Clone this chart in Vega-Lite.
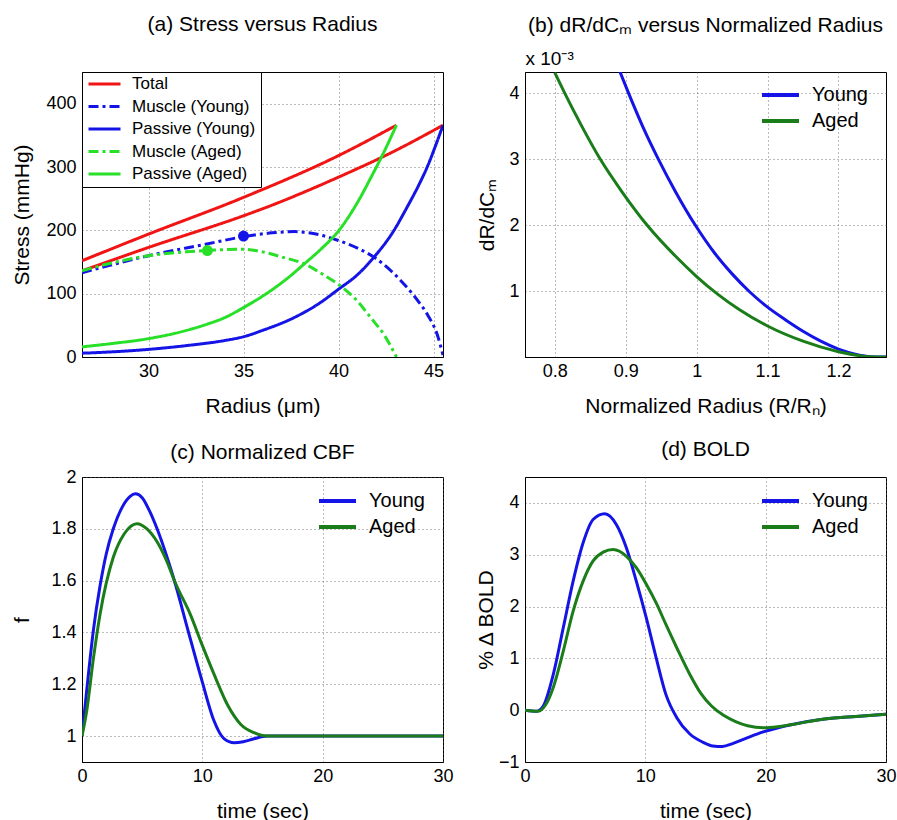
{
  "$schema": "https://vega.github.io/schema/vega-lite/v6.json",
  "padding": {"left": 10, "top": 13, "right": 0, "bottom": 0},
  "background": "white",
  "columns": 2,
  "spacing": {"row": 120, "column": 82},
  "bounds": "flush",
  "resolve": {"scale": {"color": "independent", "strokeDash": "independent", "fill": "independent"}},
  "config": {
    "font": "Liberation Sans",
    "view": {"stroke": "black", "strokeWidth": 1},
    "axis": {"domainColor": "black", "labelColor": "black", "titleColor": "black", "labelFontSize": 18, "titleFontSize": 21, "titleFontWeight": "normal", "ticks": false, "gridColor": "#555", "gridDash": [1, 3], "gridOpacity": 0.8, "labelFlush": false, "labelOverlap": false, "labelFont": "Liberation Sans", "titleFont": "Liberation Sans"},
    "axisX": {"labelPadding": 5, "titleY": 55, "titleBaseline": "alphabetic"},
    "axisY": {"labelPadding": 6, "titleBaseline": "alphabetic"},
    "title": {"fontSize": 21, "fontWeight": "normal", "color": "black", "anchor": "middle", "baseline": "alphabetic", "font": "Liberation Sans"},
    "legend": {"labelColor": "black", "labelFont": "Liberation Sans"},
    "line": {"interpolate": "monotone"}
  },
  "concat": [
    {
      "width": 361, "height": 285,
      "title": {"text": "(a) Stress versus Radius", "offset": 37},
      "layer": [
        {
          "data": {"values": [
            {"r": 26.5, "s": 136, "series": "Total", "curve": "TY"},
            {"r": 30, "s": 173, "series": "Total", "curve": "TY"},
            {"r": 35, "s": 223, "series": "Total", "curve": "TY"},
            {"r": 36, "s": 234, "series": "Total", "curve": "TY"},
            {"r": 40, "s": 284, "series": "Total", "curve": "TY"},
            {"r": 43, "s": 326, "series": "Total", "curve": "TY"},
            {"r": 45.5, "s": 366, "series": "Total", "curve": "TY"},
            {"r": 26.5, "s": 152, "series": "Total", "curve": "TA"},
            {"r": 30, "s": 194, "series": "Total", "curve": "TA"},
            {"r": 35, "s": 252, "series": "Total", "curve": "TA"},
            {"r": 40, "s": 318, "series": "Total", "curve": "TA"},
            {"r": 43.05, "s": 366, "series": "Total", "curve": "TA"},
            {"r": 26.5, "s": 133, "series": "Muscle (Young)", "curve": "MY"},
            {"r": 28, "s": 145, "series": "Muscle (Young)", "curve": "MY"},
            {"r": 30, "s": 160, "series": "Muscle (Young)", "curve": "MY"},
            {"r": 33, "s": 178, "series": "Muscle (Young)", "curve": "MY"},
            {"r": 35, "s": 190, "series": "Muscle (Young)", "curve": "MY"},
            {"r": 36.5, "s": 196, "series": "Muscle (Young)", "curve": "MY"},
            {"r": 37.7, "s": 198, "series": "Muscle (Young)", "curve": "MY"},
            {"r": 39, "s": 193, "series": "Muscle (Young)", "curve": "MY"},
            {"r": 40, "s": 184, "series": "Muscle (Young)", "curve": "MY"},
            {"r": 41, "s": 172, "series": "Muscle (Young)", "curve": "MY"},
            {"r": 41.9, "s": 157, "series": "Muscle (Young)", "curve": "MY"},
            {"r": 42.8, "s": 135, "series": "Muscle (Young)", "curve": "MY"},
            {"r": 43.6, "s": 110, "series": "Muscle (Young)", "curve": "MY"},
            {"r": 44.2, "s": 88, "series": "Muscle (Young)", "curve": "MY"},
            {"r": 44.7, "s": 66, "series": "Muscle (Young)", "curve": "MY"},
            {"r": 45.2, "s": 35, "series": "Muscle (Young)", "curve": "MY"},
            {"r": 45.5, "s": 3, "series": "Muscle (Young)", "curve": "MY"},
            {"r": 26.5, "s": 6, "series": "Passive (Young)", "curve": "PY"},
            {"r": 28, "s": 8, "series": "Passive (Young)", "curve": "PY"},
            {"r": 30, "s": 12, "series": "Passive (Young)", "curve": "PY"},
            {"r": 32, "s": 18, "series": "Passive (Young)", "curve": "PY"},
            {"r": 34, "s": 26, "series": "Passive (Young)", "curve": "PY"},
            {"r": 35, "s": 32, "series": "Passive (Young)", "curve": "PY"},
            {"r": 36, "s": 42, "series": "Passive (Young)", "curve": "PY"},
            {"r": 37.65, "s": 62, "series": "Passive (Young)", "curve": "PY"},
            {"r": 39, "s": 85, "series": "Passive (Young)", "curve": "PY"},
            {"r": 40, "s": 107, "series": "Passive (Young)", "curve": "PY"},
            {"r": 41, "s": 130, "series": "Passive (Young)", "curve": "PY"},
            {"r": 41.85, "s": 157, "series": "Passive (Young)", "curve": "PY"},
            {"r": 42.9, "s": 199, "series": "Passive (Young)", "curve": "PY"},
            {"r": 43.6, "s": 236, "series": "Passive (Young)", "curve": "PY"},
            {"r": 44.2, "s": 270, "series": "Passive (Young)", "curve": "PY"},
            {"r": 44.67, "s": 300, "series": "Passive (Young)", "curve": "PY"},
            {"r": 45.1, "s": 333, "series": "Passive (Young)", "curve": "PY"},
            {"r": 45.5, "s": 366, "series": "Passive (Young)", "curve": "PY"},
            {"r": 26.5, "s": 136, "series": "Muscle (Aged)", "curve": "MA"},
            {"r": 28, "s": 148, "series": "Muscle (Aged)", "curve": "MA"},
            {"r": 30, "s": 160, "series": "Muscle (Aged)", "curve": "MA"},
            {"r": 32, "s": 166, "series": "Muscle (Aged)", "curve": "MA"},
            {"r": 33.5, "s": 169, "series": "Muscle (Aged)", "curve": "MA"},
            {"r": 35, "s": 170, "series": "Muscle (Aged)", "curve": "MA"},
            {"r": 36, "s": 166, "series": "Muscle (Aged)", "curve": "MA"},
            {"r": 37, "s": 158, "series": "Muscle (Aged)", "curve": "MA"},
            {"r": 38.2, "s": 147, "series": "Muscle (Aged)", "curve": "MA"},
            {"r": 39.2, "s": 130, "series": "Muscle (Aged)", "curve": "MA"},
            {"r": 40.2, "s": 110, "series": "Muscle (Aged)", "curve": "MA"},
            {"r": 41, "s": 88, "series": "Muscle (Aged)", "curve": "MA"},
            {"r": 41.7, "s": 62, "series": "Muscle (Aged)", "curve": "MA"},
            {"r": 42.4, "s": 35, "series": "Muscle (Aged)", "curve": "MA"},
            {"r": 43.05, "s": 0, "series": "Muscle (Aged)", "curve": "MA"},
            {"r": 26.5, "s": 16, "series": "Passive (Aged)", "curve": "PA"},
            {"r": 28, "s": 21, "series": "Passive (Aged)", "curve": "PA"},
            {"r": 30, "s": 29, "series": "Passive (Aged)", "curve": "PA"},
            {"r": 32, "s": 42, "series": "Passive (Aged)", "curve": "PA"},
            {"r": 33.1, "s": 52, "series": "Passive (Aged)", "curve": "PA"},
            {"r": 34, "s": 62, "series": "Passive (Aged)", "curve": "PA"},
            {"r": 35, "s": 78, "series": "Passive (Aged)", "curve": "PA"},
            {"r": 36.4, "s": 104, "series": "Passive (Aged)", "curve": "PA"},
            {"r": 37.3, "s": 124, "series": "Passive (Aged)", "curve": "PA"},
            {"r": 38.2, "s": 147, "series": "Passive (Aged)", "curve": "PA"},
            {"r": 39.1, "s": 171, "series": "Passive (Aged)", "curve": "PA"},
            {"r": 40, "s": 199, "series": "Passive (Aged)", "curve": "PA"},
            {"r": 41.15, "s": 252, "series": "Passive (Aged)", "curve": "PA"},
            {"r": 41.7, "s": 283, "series": "Passive (Aged)", "curve": "PA"},
            {"r": 42.3, "s": 318, "series": "Passive (Aged)", "curve": "PA"},
            {"r": 43.05, "s": 366, "series": "Passive (Aged)", "curve": "PA"}
          ]},
          "mark": {"type": "line", "strokeWidth": 3, "clip": true},
          "encoding": {
            "x": {"field": "r", "type": "quantitative", "scale": {"domain": [26.5, 45.5], "nice": false, "zero": false}, "axis": {"values": [30, 35, 40, 45], "format": "d", "title": "Radius (μm)"}},
            "y": {"field": "s", "type": "quantitative", "scale": {"domain": [0, 450], "nice": false}, "axis": {"values": [0, 100, 200, 300, 400], "format": "d", "title": "Stress (mmHg)", "titleX": -54}},
            "color": {"field": "series", "type": "nominal",
              "scale": {"domain": ["Total", "Muscle (Young)", "Passive (Young)", "Muscle (Aged)", "Passive (Aged)"], "range": ["#f01414", "#1414e6", "#1414e6", "#28e028", "#28e028"]},
              "legend": {"title": null, "orient": "top-left", "offset": 0, "padding": 5, "strokeColor": "black", "fillColor": "white", "labelFontSize": 17, "symbolType": "stroke", "symbolSize": 1024, "symbolStrokeWidth": 3, "labelOffset": 10, "rowPadding": 5.5, "clipHeight": 14}},
            "strokeDash": {"field": "series", "type": "nominal",
              "scale": {"domain": ["Total", "Muscle (Young)", "Passive (Young)", "Muscle (Aged)", "Passive (Aged)"], "range": [[1, 0], [10, 4, 3, 4], [1, 0], [10, 4, 3, 4], [1, 0]]},
              "legend": {"title": null, "orient": "top-left", "offset": 0, "padding": 5, "strokeColor": "black", "fillColor": "white", "labelFontSize": 17, "symbolType": "stroke", "symbolSize": 1024, "symbolStrokeWidth": 3, "labelOffset": 10, "rowPadding": 5.5, "clipHeight": 14}},
            "detail": {"field": "curve"}
          }
        },
        {
          "data": {"values": [
            {"r": 35, "s": 191, "group": "Young"},
            {"r": 33.1, "s": 168, "group": "Aged"}
          ]},
          "mark": {"type": "circle", "size": 120, "opacity": 1},
          "encoding": {
            "x": {"field": "r", "type": "quantitative"},
            "y": {"field": "s", "type": "quantitative"},
            "fill": {"field": "group", "type": "nominal", "scale": {"domain": ["Young", "Aged"], "range": ["#1414e6", "#28e028"]}, "legend": null}
          }
        }
      ]
    },
    {
      "width": 361, "height": 285,
      "title": {"text": "(b) dR/dCₘ versus Normalized Radius", "offset": 13},
      "data": {"values": [
        {"x": 0.892, "y": 4.32, "g": "Young"},
        {"x": 0.904, "y": 4.0, "g": "Young"},
        {"x": 0.925, "y": 3.47, "g": "Young"},
        {"x": 0.946, "y": 3.0, "g": "Young"},
        {"x": 0.97, "y": 2.51, "g": "Young"},
        {"x": 0.998, "y": 2.0, "g": "Young"},
        {"x": 1.025, "y": 1.58, "g": "Young"},
        {"x": 1.05, "y": 1.26, "g": "Young"},
        {"x": 1.075, "y": 0.985, "g": "Young"},
        {"x": 1.1, "y": 0.755, "g": "Young"},
        {"x": 1.125, "y": 0.565, "g": "Young"},
        {"x": 1.15, "y": 0.39, "g": "Young"},
        {"x": 1.175, "y": 0.24, "g": "Young"},
        {"x": 1.2, "y": 0.12, "g": "Young"},
        {"x": 1.225, "y": 0.04, "g": "Young"},
        {"x": 1.245, "y": 0.005, "g": "Young"},
        {"x": 1.267, "y": 0.0, "g": "Young"},
        {"x": 0.8, "y": 4.31, "g": "Aged"},
        {"x": 0.814, "y": 4.0, "g": "Aged"},
        {"x": 0.838, "y": 3.5, "g": "Aged"},
        {"x": 0.864, "y": 3.0, "g": "Aged"},
        {"x": 0.895, "y": 2.5, "g": "Aged"},
        {"x": 0.93, "y": 2.0, "g": "Aged"},
        {"x": 0.97, "y": 1.53, "g": "Aged"},
        {"x": 1.0, "y": 1.22, "g": "Aged"},
        {"x": 1.03, "y": 0.95, "g": "Aged"},
        {"x": 1.06, "y": 0.72, "g": "Aged"},
        {"x": 1.1, "y": 0.47, "g": "Aged"},
        {"x": 1.15, "y": 0.24, "g": "Aged"},
        {"x": 1.2, "y": 0.08, "g": "Aged"},
        {"x": 1.23, "y": 0.02, "g": "Aged"},
        {"x": 1.25, "y": 0.0, "g": "Aged"},
        {"x": 1.267, "y": 0.0, "g": "Aged"}
      ]},
      "resolve": {"axis": {"x": "independent"}},
      "layer": [
        {
          "mark": {"type": "line", "strokeWidth": 3, "clip": true},
          "encoding": {
            "x": {"field": "x", "type": "quantitative", "scale": {"domain": [0.758, 1.267], "nice": false, "zero": false}, "axis": {"values": [0.8, 0.9, 1, 1.1, 1.2], "format": "~g", "title": "Normalized Radius (R/Rₙ)"}},
            "y": {"field": "y", "type": "quantitative", "scale": {"domain": [0, 4.32], "nice": false}, "axis": {"values": [1, 2, 3, 4], "format": "d", "title": "dR/dCₘ", "titleX": -32}},
            "color": {"field": "g", "type": "nominal", "scale": {"domain": ["Young", "Aged"], "range": ["#1414e6", "#1a7d1a"]},
              "legend": {"title": null, "orient": "none", "legendX": 235, "legendY": 13, "padding": 0, "labelFontSize": 20, "symbolType": "stroke", "symbolSize": 1369, "symbolStrokeWidth": 4, "labelOffset": 11, "rowPadding": 6, "clipHeight": 20}}
          }
        },
        {
          "mark": {"type": "line", "opacity": 0},
          "encoding": {
            "x": {"field": "x", "type": "quantitative", "axis": {"orient": "top", "title": "x 10⁻³", "labels": false, "ticks": false, "domain": false, "grid": false, "titleAnchor": "start", "titleAlign": "left", "titleX": 0, "titleY": -8, "titleBaseline": "alphabetic", "titleFontSize": 19}},
            "y": {"field": "y", "type": "quantitative", "axis": {"values": [1, 2, 3, 4], "format": "d", "title": "dR/dCₘ", "titleX": -32}},
            "detail": {"field": "g"}
          }
        }
      ]
    },
    {
      "width": 361, "height": 285,
      "title": {"text": "(c) Normalized CBF", "offset": 5},
      "data": {"values": [
        {"t": 0, "f": 1.0, "g": "Young"},
        {"t": 0.4, "f": 1.18, "g": "Young"},
        {"t": 0.95, "f": 1.41, "g": "Young"},
        {"t": 1.5, "f": 1.58, "g": "Young"},
        {"t": 2.0, "f": 1.7, "g": "Young"},
        {"t": 2.6, "f": 1.8, "g": "Young"},
        {"t": 3.3, "f": 1.88, "g": "Young"},
        {"t": 4.0, "f": 1.925, "g": "Young"},
        {"t": 4.43, "f": 1.935, "g": "Young"},
        {"t": 5.0, "f": 1.92, "g": "Young"},
        {"t": 5.6, "f": 1.87, "g": "Young"},
        {"t": 6.24, "f": 1.8, "g": "Young"},
        {"t": 7.0, "f": 1.7, "g": "Young"},
        {"t": 7.77, "f": 1.585, "g": "Young"},
        {"t": 8.74, "f": 1.42, "g": "Young"},
        {"t": 9.99, "f": 1.21, "g": "Young"},
        {"t": 10.96, "f": 1.06, "g": "Young"},
        {"t": 11.8, "f": 0.99, "g": "Young"},
        {"t": 12.64, "f": 0.974, "g": "Young"},
        {"t": 13.4, "f": 0.978, "g": "Young"},
        {"t": 14.3, "f": 0.99, "g": "Young"},
        {"t": 15.4, "f": 1.0, "g": "Young"},
        {"t": 30, "f": 1.0, "g": "Young"},
        {"t": 0, "f": 1.0, "g": "Aged"},
        {"t": 0.4, "f": 1.1, "g": "Aged"},
        {"t": 0.95, "f": 1.3, "g": "Aged"},
        {"t": 1.5, "f": 1.47, "g": "Aged"},
        {"t": 2.6, "f": 1.69, "g": "Aged"},
        {"t": 3.5, "f": 1.78, "g": "Aged"},
        {"t": 4.57, "f": 1.82, "g": "Aged"},
        {"t": 5.4, "f": 1.8, "g": "Aged"},
        {"t": 6.24, "f": 1.75, "g": "Aged"},
        {"t": 7.0, "f": 1.68, "g": "Aged"},
        {"t": 7.77, "f": 1.59, "g": "Aged"},
        {"t": 9.0, "f": 1.47, "g": "Aged"},
        {"t": 10.0, "f": 1.35, "g": "Aged"},
        {"t": 10.96, "f": 1.24, "g": "Aged"},
        {"t": 12.1, "f": 1.12, "g": "Aged"},
        {"t": 13.2, "f": 1.045, "g": "Aged"},
        {"t": 14.3, "f": 1.013, "g": "Aged"},
        {"t": 15.4, "f": 1.0, "g": "Aged"},
        {"t": 30, "f": 1.0, "g": "Aged"}
      ]},
      "mark": {"type": "line", "strokeWidth": 3, "clip": true},
      "encoding": {
        "x": {"field": "t", "type": "quantitative", "scale": {"domain": [0, 30], "nice": false}, "axis": {"values": [0, 10, 20, 30], "format": "d", "title": "time (sec)"}},
        "y": {"field": "f", "type": "quantitative", "scale": {"domain": [0.9, 2], "nice": false, "zero": false}, "axis": {"values": [1, 1.2, 1.4, 1.6, 1.8, 2], "format": "~g", "title": "f", "titleX": -54}},
        "color": {"field": "g", "type": "nominal", "scale": {"domain": ["Young", "Aged"], "range": ["#1414e6", "#1a7d1a"]},
          "legend": {"title": null, "orient": "none", "legendX": 235, "legendY": 14, "padding": 0, "labelFontSize": 20, "symbolType": "stroke", "symbolSize": 1369, "symbolStrokeWidth": 4, "labelOffset": 11, "rowPadding": 6, "clipHeight": 20}}
      }
    },
    {
      "width": 361, "height": 285,
      "title": {"text": "(d) BOLD", "offset": 17},
      "data": {"values": [
        {"t": 0, "b": 0.0, "g": "Young"},
        {"t": 0.97, "b": -0.02, "g": "Young"},
        {"t": 1.52, "b": 0.08, "g": "Young"},
        {"t": 2.35, "b": 0.69, "g": "Young"},
        {"t": 3.18, "b": 1.59, "g": "Young"},
        {"t": 4.0, "b": 2.49, "g": "Young"},
        {"t": 4.83, "b": 3.23, "g": "Young"},
        {"t": 5.66, "b": 3.68, "g": "Young"},
        {"t": 6.63, "b": 3.79, "g": "Young"},
        {"t": 7.6, "b": 3.58, "g": "Young"},
        {"t": 8.43, "b": 3.13, "g": "Young"},
        {"t": 9.25, "b": 2.49, "g": "Young"},
        {"t": 10.08, "b": 1.78, "g": "Young"},
        {"t": 10.9, "b": 1.01, "g": "Young"},
        {"t": 11.7, "b": 0.31, "g": "Young"},
        {"t": 12.6, "b": -0.14, "g": "Young"},
        {"t": 13.7, "b": -0.46, "g": "Young"},
        {"t": 14.8, "b": -0.62, "g": "Young"},
        {"t": 15.6, "b": -0.69, "g": "Young"},
        {"t": 16.4, "b": -0.7, "g": "Young"},
        {"t": 17.3, "b": -0.64, "g": "Young"},
        {"t": 18.3, "b": -0.55, "g": "Young"},
        {"t": 19.8, "b": -0.42, "g": "Young"},
        {"t": 22.1, "b": -0.28, "g": "Young"},
        {"t": 24.9, "b": -0.17, "g": "Young"},
        {"t": 27.5, "b": -0.12, "g": "Young"},
        {"t": 30, "b": -0.08, "g": "Young"},
        {"t": 0, "b": 0.0, "g": "Aged"},
        {"t": 1.1, "b": -0.02, "g": "Aged"},
        {"t": 1.7, "b": 0.1, "g": "Aged"},
        {"t": 2.35, "b": 0.44, "g": "Aged"},
        {"t": 3.18, "b": 1.14, "g": "Aged"},
        {"t": 4.0, "b": 1.91, "g": "Aged"},
        {"t": 4.83, "b": 2.49, "g": "Aged"},
        {"t": 5.66, "b": 2.88, "g": "Aged"},
        {"t": 6.5, "b": 3.05, "g": "Aged"},
        {"t": 7.32, "b": 3.1, "g": "Aged"},
        {"t": 8.43, "b": 2.97, "g": "Aged"},
        {"t": 9.25, "b": 2.75, "g": "Aged"},
        {"t": 10.08, "b": 2.43, "g": "Aged"},
        {"t": 10.9, "b": 2.07, "g": "Aged"},
        {"t": 11.7, "b": 1.66, "g": "Aged"},
        {"t": 12.6, "b": 1.21, "g": "Aged"},
        {"t": 13.7, "b": 0.69, "g": "Aged"},
        {"t": 14.6, "b": 0.33, "g": "Aged"},
        {"t": 15.5, "b": 0.08, "g": "Aged"},
        {"t": 16.5, "b": -0.1, "g": "Aged"},
        {"t": 17.5, "b": -0.22, "g": "Aged"},
        {"t": 18.5, "b": -0.3, "g": "Aged"},
        {"t": 19.8, "b": -0.34, "g": "Aged"},
        {"t": 21, "b": -0.32, "g": "Aged"},
        {"t": 22.1, "b": -0.28, "g": "Aged"},
        {"t": 24.9, "b": -0.17, "g": "Aged"},
        {"t": 27.5, "b": -0.12, "g": "Aged"},
        {"t": 30, "b": -0.08, "g": "Aged"}
      ]},
      "mark": {"type": "line", "strokeWidth": 3, "clip": true},
      "encoding": {
        "x": {"field": "t", "type": "quantitative", "scale": {"domain": [0, 30], "nice": false}, "axis": {"values": [0, 10, 20, 30], "format": "d", "title": "time (sec)"}},
        "y": {"field": "b", "type": "quantitative", "scale": {"domain": [-1, 4.5], "nice": false}, "axis": {"values": [-1, 0, 1, 2, 3, 4], "format": "d", "title": "% Δ BOLD", "titleX": -33}},
        "color": {"field": "g", "type": "nominal", "scale": {"domain": ["Young", "Aged"], "range": ["#1414e6", "#1a7d1a"]},
          "legend": {"title": null, "orient": "none", "legendX": 235, "legendY": 14, "padding": 0, "labelFontSize": 20, "symbolType": "stroke", "symbolSize": 1369, "symbolStrokeWidth": 4, "labelOffset": 11, "rowPadding": 6, "clipHeight": 20}}
      }
    }
  ]
}
